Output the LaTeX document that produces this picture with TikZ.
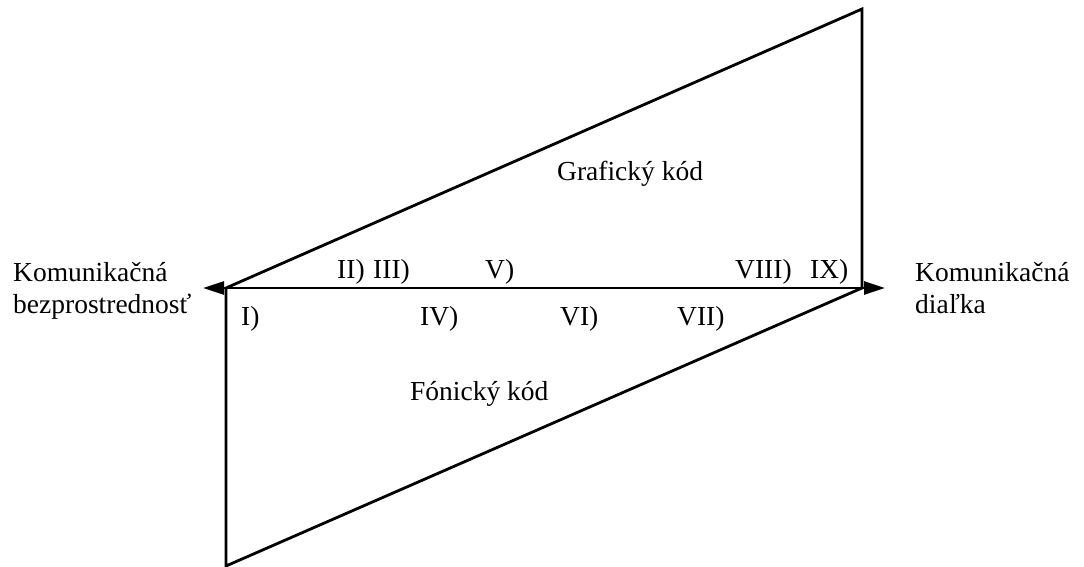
\documentclass[tikz,border=0pt]{standalone}
\usepackage{fontspec}
\setmainfont{Liberation Serif}
\usetikzlibrary{arrows.meta}

\begin{document}
\begin{tikzpicture}[
  x=1pt,y=-1pt,
  lbl/.style={anchor=base west,inner sep=0pt,align=left,
              font=\fontsize{27.5}{31.5}\selectfont},
  edge/.style={line width=2.8pt,line join=miter},
  axis/.style={line width=2.8pt,
               {Triangle[length=21pt,width=13pt]}-{Triangle[length=21pt,width=13pt]}}
]
\useasboundingbox (0,0) rectangle (1084,567);
\coordinate (o) at (226,288);
\coordinate (e) at (862,288);
\coordinate (top) at (862,9);
\coordinate (bot) at (226,566);
\coordinate (l) at (203,288);
\coordinate (r) at (885,288);
% Triangles
\draw[edge] (o) -- (top) -- (e);
\draw[edge] (o) -- (bot) -- (e);
% Axis
\draw[axis] (l) -- (r);
% End labels
\node[lbl] (near) at (13,313) {Komunikačná\\bezprostrednosť};
\node[lbl] (far) at (915,313) {Komunikačná\\diaľka};
% Codes
\node[lbl] (graf) at (557,180) {Grafický kód};
\node[lbl] (fon) at (410,400) {Fónický kód};
% Points above the axis
\node[lbl] (p2) at (337,278) {II)};
\node[lbl] (p3) at (373,278) {III)};
\node[lbl] (p5) at (485,278) {V)};
\node[lbl] (p8) at (735,278) {VIII)};
\node[lbl] (p9) at (810,278) {IX)};
% Points below the axis
\node[lbl] (p1) at (241,325) {I)};
\node[lbl] (p4) at (420,325) {IV)};
\node[lbl] (p6) at (560,325) {VI)};
\node[lbl] (p7) at (677,325) {VII)};
\end{tikzpicture}
\end{document}
